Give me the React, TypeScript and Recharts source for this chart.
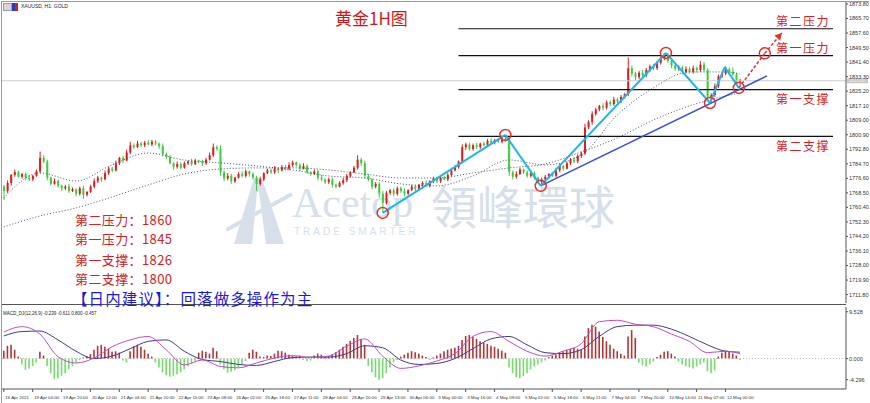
import React from 'react';
import {
  ComposedChart,
  Bar,
  Line,
  XAxis,
  YAxis,
  ReferenceLine,
  ReferenceDot,
  Cell,
} from 'recharts';

// XAUUSD H1 closes (one bar per column of candles)
const firstOpen = 1772;
const closes = [
  1769.5, 1774, 1778.5, 1780, 1777.5, 1779, 1777, 1776, 1778, 1780.5,
  1788, 1786, 1777, 1773.5, 1775, 1772.5, 1771, 1772, 1769.5, 1770.5,
  1768, 1771, 1767.5, 1769, 1772, 1775, 1777, 1776, 1779.5, 1782,
  1781, 1785, 1788, 1786.5, 1791, 1795, 1794, 1796, 1795, 1796.5,
  1795.5, 1797, 1796, 1794.5, 1790, 1788.5, 1785, 1783, 1784.5, 1782.5,
  1785, 1786, 1784.5, 1786.5, 1786, 1785, 1787, 1789.5, 1794, 1793,
  1780, 1776.5, 1778, 1775, 1777, 1779, 1778, 1780.5, 1779, 1777,
  1773.5, 1776, 1779.5, 1781, 1780, 1782, 1781, 1783, 1782, 1784,
  1785.5, 1784, 1782, 1783.5, 1780, 1779, 1780.5, 1777, 1776, 1774.5,
  1776, 1773, 1772, 1774, 1775.5, 1778, 1780, 1782.5, 1787, 1785,
  1778, 1776, 1772, 1773.5, 1768, 1763, 1768.5, 1770, 1768, 1771,
  1769.5, 1768, 1770, 1772, 1770.5, 1773, 1774, 1772.5, 1775, 1776.5,
  1775, 1777, 1776, 1778.5, 1781, 1783, 1786, 1794, 1795.5, 1793,
  1795, 1794, 1796, 1795, 1797.5, 1796.5, 1798, 1797, 1799, 1798,
  1780, 1777.5, 1779, 1781.5, 1780, 1778, 1779.5, 1777, 1774.5, 1776,
  1777.5, 1779, 1778, 1781, 1783.5, 1782, 1785, 1787, 1786, 1789,
  1790.5, 1805, 1808, 1812.5, 1815, 1817, 1816, 1819, 1818, 1820.5,
  1819.5, 1822, 1823.5, 1838, 1835, 1833, 1835.5, 1834, 1837, 1839,
  1838, 1841, 1843.5, 1845, 1842, 1839.5, 1837.5, 1838.5, 1836, 1837.5,
  1836, 1838, 1837, 1840, 1837, 1822, 1823, 1828, 1833.5, 1835,
  1837.5, 1836, 1834.5, 1830, 1831,
];
const upWick = [
  1, 1.5, 0.5, 1.5, 1, 0.5, 1, 1.5, 0.5, 1,
  3.5, 1.5, 1, 0.5, 1.5, 1, 0.5, 1, 1.5, 1,
  0.5, 1, 1.5, 0.5, 1, 1.5, 1, 0.5, 1.5, 1,
  1, 1.5, 0.5, 1, 1.5, 2, 1, 1.5, 1, 1,
  1.5, 1, 1, 0.5, 1.5, 1, 1, 0.5, 1.5, 1,
  1, 0.5, 1.5, 1, 0.5, 1, 1, 1.5, 2, 1,
  2, 1, 1.5, 1, 0.5, 1, 1.5, 1, 0.5, 1,
  1, 1.5, 0.5, 1, 1, 1.5, 0.5, 1, 1, 1.5,
  1, 0.5, 1, 1.5, 1, 0.5, 1, 1, 1.5, 0.5,
  1, 1, 0.5, 1, 1.5, 1, 0.5, 1, 2.5, 1,
  1.5, 1, 0.5, 1, 1, 1.5, 1, 0.5, 1, 1,
  1, 1.5, 0.5, 1, 1, 0.5, 1, 1.5, 0.5, 1,
  1, 0.5, 1, 1, 1.5, 1, 0.5, 1.5, 1, 1,
  1, 1.5, 0.5, 1, 1, 1.5, 0.5, 1, 1, 1.8,
  2, 1, 1.5, 1, 0.5, 1, 1.5, 1, 0.5, 1,
  1, 0.5, 1, 1.5, 1, 0.5, 1, 1, 1.5, 1,
  1, 2, 1, 1.5, 1, 0.5, 1.5, 1, 1, 1.5,
  1, 1, 0.5, 6, 1.5, 1, 1, 1.5, 1, 1,
  1.5, 1, 1, 1.5, 1.5, 1, 1.5, 1, 1, 1.5,
  1, 1.5, 1, 2, 1.5, 1, 1, 1.5, 1, 1,
  1.5, 1, 2.5, 1, 1,
];
const downWick = [
  5, 1, 1.5, 1, 0.5, 1, 1.5, 1, 1, 0.5,
  1, 1, 1.5, 1, 0.5, 1, 1.5, 1, 1, 0.5,
  1.5, 1, 2.5, 1, 0.5, 1, 1, 1.5, 0.5, 1,
  1, 0.5, 1, 1.5, 0.5, 1, 1, 0.5, 1, 1,
  0.5, 1, 1, 1.5, 1, 1, 0.5, 1.5, 1, 1,
  0.5, 1, 1, 0.5, 1, 1.5, 1, 0.5, 1, 1,
  2, 1.5, 1, 1.5, 1, 0.5, 1, 1, 1.5, 1,
  4, 1, 1, 0.5, 1, 1, 1.5, 0.5, 1, 1,
  1, 1, 1.5, 0.5, 1, 1, 0.5, 1.5, 1, 1,
  1, 1.5, 1, 0.5, 1, 1, 1, 0.5, 1, 1.5,
  1.5, 1, 1.5, 1, 2, 5.7, 1, 1, 1.5, 1,
  1, 1.5, 1, 0.5, 1, 1, 1, 0.5, 1, 1,
  1, 1, 0.5, 1, 1, 0.5, 1, 1, 1.5, 1,
  1, 1, 1, 0.5, 1, 1, 1, 0.5, 1, 1,
  2, 1.5, 1, 0.5, 1, 1, 1, 1, 1, 2.1,
  1, 1, 0.5, 1, 1, 1, 0.5, 1, 1, 1,
  1, 1, 1, 1.5, 1, 1, 1.5, 1, 1, 1,
  1, 1, 1, 1, 1.5, 2, 1, 1, 1, 1,
  1, 1, 1, 1, 1, 1.5, 1, 1, 1.5, 1,
  1, 1, 1.5, 1, 1, 1, 3.4, 1, 1, 1,
  1, 1, 1, 1, 1.5,
];

// dotted moving averages, sampled every 10 bars
const maIdx = [0, 10, 20, 30, 40, 50, 60, 70, 80, 90, 100, 110, 120, 130, 140, 150, 160, 170, 180, 190, 200, 204];
const fastMA = [1765.7, 1779.6, 1775.1, 1784.1, 1790.7, 1786.8, 1785.2, 1783.5, 1781.3, 1777.9, 1776.8, 1773.5, 1772.4, 1777.9, 1786.8, 1784.1, 1789.6, 1811.9, 1827.0, 1835.9, 1835.9, 1834.8];
const slowMA = [1749.5, 1755.6, 1760.1, 1766.2, 1772.9, 1779.0, 1781.8, 1782.4, 1782.4, 1781.3, 1779.0, 1776.8, 1776.8, 1779.6, 1782.4, 1784.6, 1791.3, 1799.1, 1809.1, 1817.0, 1822.5, 1824.2];

// MACD_DJ lines sampled every 5 bars, histogram per bar
const macdIdx = [0, 5, 10, 15, 20, 25, 30, 35, 40, 45, 50, 55, 60, 65, 70, 75, 80, 85, 90, 95, 100, 105, 110, 115, 120, 125, 130, 135, 140, 145, 150, 155, 160, 165, 170, 175, 180, 185, 190, 195, 200, 204];
const difLine = [5.4, 6.5, 5.0, 0.4, -0.9, 0.1, 2.4, 3.8, 4.5, 1.8, -1.3, -0.3, -1.6, -1.9, -0.9, 0.1, 0.6, 0.2, 0.5, 2.5, 4.0, 0.5, -2.0, -1.5, -0.5, 1.0, 4.5, 5.5, 3.5, 1.5, 0.5, 1.5, 3.0, 7.5, 7.8, 7.0, 6.5, 5.0, 3.5, 1.2, 1.5, 1.0];
const deaLine = [4.6, 5.5, 5.6, 3.8, 1.5, 0.0, 0.5, 2.0, 3.5, 3.8, 1.5, -0.2, -0.6, -1.2, -1.4, -0.6, 0.2, 0.3, 0.3, 1.0, 2.6, 2.2, -0.3, -1.2, -1.0, 0.0, 2.0, 4.0, 4.5, 2.8, 1.2, 1.0, 1.8, 4.5, 6.5, 6.8, 6.8, 6.0, 4.5, 2.8, 1.5, 1.3];
const macdHist = [
  1.6, 2.6, 2.8, 1.8, 0.4, -1.2, -2.3, -2.0, -1.5, -0.8,
  1.4, 0.6, -1.5, -3.0, -4.2, -4.0, -3.5, -3.0, -2.2, -1.5,
  -0.8, -0.3, 0.2, 0.5, 0.9, 1.8, 2.6, 2.8, 2.4, 2.0,
  1.4, 1.5, 1.2, -0.4, -0.8, 1.5, 2.5, 2.8, 2.4, 1.8,
  1.0, 0.4, -0.8, -1.8, -2.8, -3.4, -3.7, -3.5, -3.2, -2.8,
  -2.2, -1.6, -1.0, -0.5, 1.2, 1.6, 1.4, 1.0, 2.2, 1.5,
  -1.2, -2.2, -2.9, -2.7, -2.4, -1.8, -1.2, -0.5, 1.2, 1.8,
  1.4, 0.4, 0.3, 0.6, 0.5, 1.0, 1.6, 1.5, 1.2, 0.8,
  0.5, 0.4, 0.6, -0.3, -0.5, -0.4, 0.6, 1.0, 0.8, 0.3,
  0.5, 0.9, 1.3, 1.8, 2.4, 3.0, 3.6, 4.2, 4.8, 4.0,
  2.8, -1.5, -2.8, -3.8, -4.3, -4.0, -3.0, -1.8, -0.8, -0.3,
  0.4, 0.8, 1.2, 1.5, 1.3, 1.0, 0.6, 0.3, -0.3, 0.2,
  0.6, 1.0, 1.5, 1.8, 2.0, 2.2, 2.6, 3.8, 4.6, 4.8,
  4.4, 4.0, 3.5, 3.2, 3.0, 2.6, 2.4, 2.0, 1.6, 1.2,
  -1.8, -3.0, -3.8, -4.0, -3.6, -3.0, -2.2, -1.6, -1.2, -0.8,
  -0.4, 0.3, 0.6, 0.9, 1.2, 1.5, 1.8, 2.0, 2.2, 2.0,
  1.8, 4.5, 6.2, 6.9, 6.5, 5.5, 4.4, 3.5, 2.8, 2.0,
  1.5, 1.0, 0.6, 4.5, 5.8, 4.2, -0.8, -1.4, -1.6, -1.2,
  -0.6, 0.3, 0.8, 1.4, 1.5, 1.0, 0.4, -0.6, -1.2, -1.6,
  -1.8, -2.0, -1.6, -1.2, -0.8, -2.6, -3.0, -2.4, 0.4, 1.2,
  1.6, 1.4, 1.0, 0.6, -0.3,
];

const priceTicks = [1873.8, 1865.7, 1857.6, 1849.5, 1841.4, 1833.3, 1825.2, 1817.1, 1809.0, 1800.9, 1792.8, 1784.7, 1776.6, 1768.5, 1760.4, 1752.3, 1744.2, 1736.1, 1728.0, 1719.9, 1711.8];
const macdTicks = [9.528, 0, -4.296];
const timeTicks = [0, 8, 16, 24, 32, 40, 48, 56, 64, 72, 80, 88, 96, 104, 112, 120, 128, 136, 144, 152, 160, 168, 176, 184, 192, 200];
const timeLabels = [
  '16 Apr 2021', '19 Apr 04:00', '19 Apr 20:00', '20 Apr 12:00', '21 Apr 04:00', '21 Apr 20:00',
  '22 Apr 15:00', '23 Apr 08:00', '26 Apr 02:00', '26 Apr 18:00', '27 Apr 11:00', '28 Apr 04:00',
  '28 Apr 20:00', '29 Apr 13:00', '30 Apr 06:00', '3 May 00:00', '3 May 16:00', '4 May 09:00',
  '5 May 02:00', '5 May 18:00', '6 May 11:00', '7 May 04:00', '7 May 20:00', '10 May 14:00',
  '11 May 07:00', '12 May 00:00',
];

// support / resistance levels
const levelNames = ['第二压力', '第一压力', '第一支撑', '第二支撑'];
const levelValues = [1860, 1845, 1826, 1800];
const levelFrom = 126;
const levelTo = 229.8;

// hand-drawn annotations (bar index, price)
const zigBars = [105, 139, 148.8, 183.5, 195.7, 199.8, 203.7];
const zigPrices = [1757.3, 1800.8, 1772.4, 1846.5, 1818.6, 1838.7, 1827.0];
const circleBars = [105, 139, 148.8, 183.5, 195.7, 203.7, 210.9];
const circlePrices = [1757.3, 1800.8, 1772.4, 1846.5, 1818.6, 1827.0, 1846.3];
const trendBars = [148.8, 211.5];
const trendPrices = [1772.4, 1833.7];
const arrowBars = [203.7, 210.9, 215.6];
const arrowPrices = [1827.0, 1846.3, 1857.6];

const X_DOMAIN: [number, number] = [-0.5, 233.4];
const UP = '#d81e1e';
const DOWN = '#3dcc3d';
const RED = '#e0332f';
const CYAN = '#1fb6e8';
const WM = '#d6dfea';

const rows = closes.map((c, i) => {
  const o = i === 0 ? firstOpen : closes[i - 1];
  const m = maIdx.indexOf(i);
  const k = macdIdx.indexOf(i);
  return {
    i,
    o,
    c,
    h: Math.max(o, c) + upWick[i],
    l: Math.min(o, c) - downWick[i],
    fast: m >= 0 ? fastMA[m] : null,
    slow: m >= 0 ? slowMA[m] : null,
    hist: macdHist[i],
    dif: k >= 0 ? difLine[k] : null,
    dea: k >= 0 ? deaLine[k] : null,
  };
});

const Candle = (props: any) => {
  const { x, y, width, height, payload } = props;
  if (x == null || payload == null) return null;
  const top = Math.min(y, y + height);
  const hh = Math.abs(height);
  const { o, c, h, l } = payload;
  const color = c >= o ? UP : DOWN;
  const k = hh / (h - l);
  const bTop = top + (h - Math.max(o, c)) * k;
  const bBot = top + (h - Math.min(o, c)) * k;
  const cx = x + width / 2;
  return (
    <g>
      <line x1={cx} x2={cx} y1={top} y2={top + hh} stroke={color} strokeWidth={1} />
      <rect x={x} y={bTop} width={width} height={Math.max(bBot - bTop, 0.8)} fill={color} />
    </g>
  );
};

// grey last-price box on the axis
const PriceTag = (props: any) => {
  const vb = props.viewBox;
  if (!vb) return null;
  const x = vb.x + vb.width;
  return (
    <g>
      <rect x={x + 1} y={vb.y - 2.5} width={21} height={5} fill="#c6c6c6" />
      <text x={x + 2.5} y={vb.y + 1.6} fontSize={4.6} fill="#f4f4f4" fontFamily="Liberation Sans">
        {closes[closes.length - 1].toFixed(2)}
      </text>
    </g>
  );
};

const ArrowHead = (props: any) => {
  const { cx, cy } = props;
  return (
    <polygon
      points={`${cx},${cy} ${cx - 7.4},${cy + 2.5} ${cx - 1.6},${cy + 7.7}`}
      fill={RED}
    />
  );
};

const TimeTick = (props: any) => {
  const { x, y, payload } = props;
  const n = timeTicks.indexOf(payload.value);
  return (
    <text x={x + 1.5} y={y + 5} fontSize={4.4} fill="#333" textAnchor="start" fontFamily="Liberation Sans">
      {timeLabels[n]}
    </text>
  );
};

const Watermark = () => (
  <svg
    width={430}
    height={80}
    style={{ position: 'absolute', left: 226, top: 172 }}
  >
    <polygon points="8,72 28,6 36,6 58,72" fill={WM} />
    <polygon points="26,72 31,20 33,20 40,72" fill="#ffffff" />
    <line x1="0" y1="58" x2="66" y2="22" stroke={WM} strokeWidth={4} />
    <text x={66} y={45} fontSize={42} fontFamily="Liberation Serif" fill={WM}>Acetop</text>
    <text x={68} y={63} fontSize={10} letterSpacing={3} fontFamily="Liberation Sans" fill={WM}>TRADE SMARTER</text>
    <text x={205} y={52} fontSize={46} fontFamily="Noto Sans CJK TC" fill={WM}>領峰環球</text>
  </svg>
);

const cjk = '"Noto Sans CJK SC", sans-serif';

export default function App() {
  const leftNotes = [
    { t: `${levelNames[0]}：${levelValues[0]}`, y: 212 },
    { t: `${levelNames[1]}：${levelValues[1]}`, y: 231 },
    { t: `${levelNames[2]}：${levelValues[2]}`, y: 252 },
    { t: `${levelNames[3]}：${levelValues[3]}`, y: 271 },
  ];
  const rightTags = [14, 41, 92, 139];

  return (
    <div
      style={{
        position: 'absolute',
        left: 0,
        top: 0,
        width: 870,
        height: 403,
        background: '#fff',
        overflow: 'hidden',
      }}
    >
      <Watermark />

      <div style={{ position: 'absolute', left: 0, top: 0 }}>
        <ComposedChart width={870} height={305} data={rows} margin={{ top: 2, right: 0, bottom: 2, left: 2 }}>
          <XAxis type="number" dataKey="i" domain={X_DOMAIN} ticks={timeTicks} allowDataOverflow hide />
          <YAxis
            orientation="right"
            width={24}
            domain={[1707.1, 1874.9]}
            allowDataOverflow
            ticks={priceTicks}
            interval={0}
            tickFormatter={(v: number) => v.toFixed(2)}
            tick={{ fontSize: 5.5, fill: '#333', fontFamily: 'Liberation Sans' }}
            tickSize={2}
            tickMargin={1}
            axisLine={{ stroke: '#555' }}
            tickLine={{ stroke: '#555' }}
          />
          <ReferenceLine y={closes[closes.length - 1]} stroke="#cccccc" label={<PriceTag />} />
          <Bar dataKey={(d: any) => [d.l, d.h]} shape={<Candle />} barSize={2} isAnimationActive={false} />
          <Line dataKey="fast" type="monotone" stroke="#4b5070" strokeWidth={1} strokeDasharray="1 2" dot={false} connectNulls isAnimationActive={false} />
          <Line dataKey="slow" type="monotone" stroke="#4b5070" strokeWidth={1} strokeDasharray="1 2" dot={false} connectNulls isAnimationActive={false} />
          {levelValues.map((v) => (
            <ReferenceLine
              key={'lv' + v}
              segment={[{ x: levelFrom, y: v }, { x: levelTo, y: v }]}
              stroke="#111"
              strokeWidth={1.2}
            />
          ))}
          <ReferenceLine
            segment={[{ x: trendBars[0], y: trendPrices[0] }, { x: trendBars[1], y: trendPrices[1] }]}
            stroke="#3a4fd6"
            strokeWidth={1.5}
          />
          {zigBars.slice(1).map((b, n) => (
            <ReferenceLine
              key={'zz' + n}
              segment={[{ x: zigBars[n], y: zigPrices[n] }, { x: b, y: zigPrices[n + 1] }]}
              stroke={CYAN}
              strokeWidth={2}
            />
          ))}
          {arrowBars.slice(1).map((b, n) => (
            <ReferenceLine
              key={'ar' + n}
              segment={[{ x: arrowBars[n], y: arrowPrices[n] }, { x: b, y: arrowPrices[n + 1] }]}
              stroke={RED}
              strokeWidth={1.5}
              strokeDasharray="3 2"
            />
          ))}
          <ReferenceDot x={arrowBars[2]} y={arrowPrices[2]} r={4} shape={<ArrowHead />} />
          {circleBars.map((b, n) => (
            <ReferenceDot key={'c' + n} x={b} y={circlePrices[n]} r={5.5} fill="none" stroke={RED} strokeWidth={1.5} />
          ))}
        </ComposedChart>
      </div>

      <div style={{ position: 'absolute', left: 0, top: 304 }}>
        <ComposedChart width={870} height={99} data={rows} margin={{ top: 3, right: 0, bottom: 0, left: 2 }}>
          <XAxis
            type="number"
            dataKey="i"
            domain={X_DOMAIN}
            allowDataOverflow
            ticks={timeTicks}
            interval={0}
            height={14}
            tick={<TimeTick />}
            tickSize={3}
            axisLine={{ stroke: '#555' }}
            tickLine={{ stroke: '#555' }}
          />
          <YAxis
            orientation="right"
            width={24}
            domain={[-6.2, 10.5]}
            allowDataOverflow
            ticks={macdTicks}
            interval={0}
            tickFormatter={(v: number) => v.toFixed(3)}
            tick={{ fontSize: 5.5, fill: '#333', fontFamily: 'Liberation Sans' }}
            tickSize={2}
            tickMargin={1}
            axisLine={{ stroke: '#555' }}
            tickLine={{ stroke: '#555' }}
          />
          <ReferenceLine y={0} stroke="#bbbbbb" strokeDasharray="1 2" />
          <Bar dataKey="hist" barSize={1.6} isAnimationActive={false}>
            {rows.map((r) => (
              <Cell key={r.i} fill={r.hist >= 0 ? '#b33636' : '#74dc6a'} />
            ))}
          </Bar>
          <Line dataKey="dea" type="monotone" stroke="#3b3b8f" strokeWidth={1} dot={false} connectNulls isAnimationActive={false} />
          <Line dataKey="dif" type="monotone" stroke="#c04cc4" strokeWidth={1} dot={false} connectNulls isAnimationActive={false} />
        </ComposedChart>
      </div>

      {/* frame */}
      <div style={{ position: 'absolute', left: 1, top: 1, width: 868, height: 1, background: '#9a9a9a' }} />
      <div style={{ position: 'absolute', left: 1, top: 1, width: 1, height: 402, background: '#9a9a9a' }} />
      <div style={{ position: 'absolute', left: 2, top: 304, width: 844, height: 1, background: '#555' }} />

      {/* header */}
      <div style={{ position: 'absolute', left: 3, top: 3, width: 7, height: 6, border: '1px solid #8aa0c8', background: '#e8d0d0' }} />
      <div style={{ position: 'absolute', left: 12, top: 3, width: 3, height: 8, background: '#2040c0' }} />
      <div style={{ position: 'absolute', left: 15, top: 3, width: 3, height: 8, background: '#d02020' }} />
      <div style={{ position: 'absolute', left: 21, top: 3, fontSize: 5, fontFamily: 'Liberation Sans', color: '#222', lineHeight: '6px', whiteSpace: 'nowrap' }}>
        XAUUSD, H1: GOLD
      </div>
      <div style={{ position: 'absolute', left: 3, top: 311, fontSize: 4.5, fontFamily: 'Liberation Sans', color: '#222', lineHeight: '5px', whiteSpace: 'nowrap' }}>
        MACD_DJ(12,26,9) -0.239 -0.611 0.800 -0.457
      </div>

      {/* title */}
      <div style={{ position: 'absolute', left: 335, top: 8, fontSize: 17, fontFamily: cjk, color: '#d01818', lineHeight: '20px', whiteSpace: 'nowrap' }}>
        黄金1H图
      </div>

      {/* notes */}
      {leftNotes.map((n) => (
        <div key={n.t} style={{ position: 'absolute', left: 75, top: n.y, fontSize: 13, fontFamily: cjk, color: '#d42222', lineHeight: '15px', letterSpacing: 0.4, whiteSpace: 'nowrap' }}>
          {n.t}
        </div>
      ))}
      <div style={{ position: 'absolute', left: 72, top: 290, fontSize: 15.5, fontFamily: cjk, color: '#1a1ad8', lineHeight: '17px', letterSpacing: 1.1, whiteSpace: 'nowrap' }}>
        【日内建议】：回落做多操作为主
      </div>
      {levelNames.map((name, n) => (
        <div key={name} style={{ position: 'absolute', left: 776, top: rightTags[n], fontSize: 12, fontFamily: cjk, color: '#d42222', lineHeight: '14px', letterSpacing: 1.5, whiteSpace: 'nowrap' }}>
          {name}
        </div>
      ))}
    </div>
  );
}
